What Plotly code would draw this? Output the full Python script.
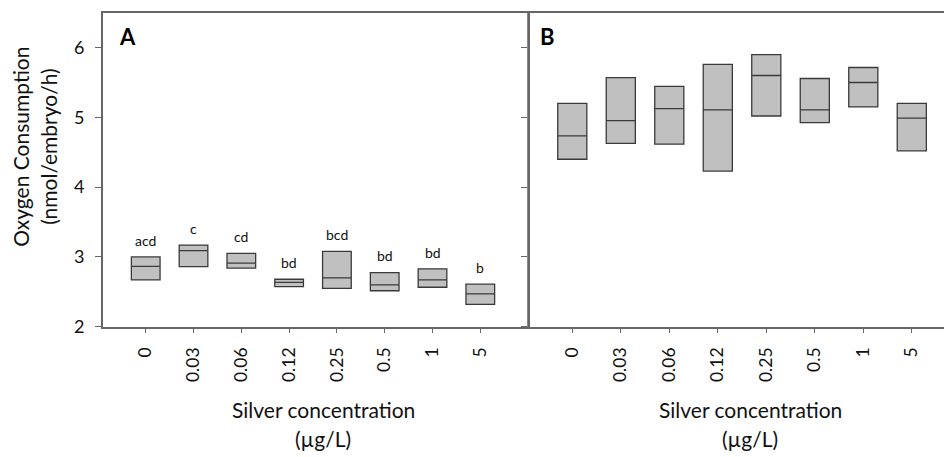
import plotly.graph_objects as go

categories = ["0", "0.03", "0.06", "0.12", "0.25", "0.5", "1", "5"]

# Panel A
a_q1 = [2.67, 2.86, 2.84, 2.575, 2.55, 2.515, 2.565, 2.32]
a_med = [2.865, 3.09, 2.91, 2.635, 2.70, 2.60, 2.67, 2.47]
a_q3 = [3.00, 3.17, 3.05, 2.68, 3.08, 2.775, 2.83, 2.61]
a_letters = ["acd", "c", "cd", "bd", "bcd", "bd", "bd", "b"]

# Panel B
b_q1 = [4.40, 4.626, 4.617, 4.23, 5.02, 4.926, 5.15, 4.52]
b_med = [4.734, 4.954, 5.126, 5.108, 5.60, 5.108, 5.50, 4.99]
b_q3 = [5.20, 5.57, 5.445, 5.76, 5.90, 5.557, 5.715, 5.20]

y_ticks = [2, 3, 4, 5, 6]

FONT = "Lato"
W, H = 944, 457
FILL = "#c0c0c0"
EDGE = "#3a3a3a"
AXIS = "#666666"
TXT = "#111111"

fig = go.Figure()

def add_boxes(q1, med, q3, xa, ya):
    fig.add_trace(go.Box(
        x=categories, q1=q1, median=med, q3=q3,
        lowerfence=q1, upperfence=q3,
        fillcolor=FILL, line=dict(color=EDGE, width=1.3),
        width=0.6, boxpoints=False, hoverinfo="skip",
        xaxis=xa, yaxis=ya, showlegend=False,
    ))

add_boxes(a_q1, a_med, a_q3, "x", "y")
add_boxes(b_q1, b_med, b_q3, "x2", "y2")

# significance letters above panel A boxes (x = category index)
for i, (top, lab) in enumerate(zip(a_q3, a_letters)):
    fig.add_annotation(x=i, y=top + 0.24, xref="x", yref="y", text=lab,
                       showarrow=False, xanchor="center", yanchor="middle",
                       font=dict(family=FONT, size=14, color=TXT))

def px(x):
    return x / W

def py(y):
    return 1 - y / H

ydom = [py(334), py(13)]
common_x = dict(type="category", showline=True, linecolor=AXIS, linewidth=1.5,
                ticks="outside", ticklen=5, tickcolor=AXIS, tickwidth=1,
                tickangle=-90, tickfont=dict(family=FONT, size=17.5, color=TXT),
                showgrid=False, zeroline=False, ticklabelstandoff=7)

fig.update_layout(
    width=W, height=H, margin=dict(l=0, r=0, t=0, b=0),
    paper_bgcolor="white", plot_bgcolor="white",
    xaxis=dict(domain=[px(102.7), px(528)], range=[-0.9, 7.998], mirror=True,
               anchor="y", **common_x),
    xaxis2=dict(domain=[px(528), 1.0], range=[-0.913, 7.664], mirror=True,
                anchor="y2", **common_x),
    yaxis=dict(domain=ydom, range=[2, 6.5], tickvals=y_ticks, showline=True,
               mirror=True, linecolor=AXIS, linewidth=1.5, ticks="outside",
               ticklen=6, tickcolor=AXIS, showgrid=False, zeroline=False,
               tickfont=dict(family=FONT, size=18, color=TXT),
               ticklabelstandoff=7, anchor="x"),
    yaxis2=dict(domain=ydom, range=[2, 6.5], tickvals=y_ticks, showline=True,
                mirror=False, linecolor="#8a8a8a", linewidth=1, ticks="outside",
                ticklen=6, tickcolor=AXIS, showticklabels=False, showgrid=False,
                zeroline=False, anchor="x2"),
)

ann_font = dict(family=FONT, size=21, color=TXT)
fig.add_annotation(x=px(34), y=py(150), xref="paper", yref="paper",
                   text="Oxygen Consumption<br>(nmol/embryo/h)", textangle=-90,
                   showarrow=False, xanchor="center", yanchor="middle",
                   font=ann_font)
for cx in (323, 750):
    fig.add_annotation(x=px(cx), y=py(419), xref="paper", yref="paper",
                       text="Silver concentration", showarrow=False,
                       xanchor="center", yanchor="middle", font=ann_font)
    fig.add_annotation(x=px(cx), y=py(448), xref="paper", yref="paper",
                       text="(µg/L)", showarrow=False,
                       xanchor="center", yanchor="middle", font=ann_font)

for cx, lab in ((127, "A"), (547, "B")):
    fig.add_annotation(x=px(cx), y=py(37.5), xref="paper", yref="paper",
                       text="<b>" + lab + "</b>", showarrow=False,
                       xanchor="center", yanchor="middle",
                       font=dict(family=FONT, size=22, color="#000"))

fig.write_html("out.html")
